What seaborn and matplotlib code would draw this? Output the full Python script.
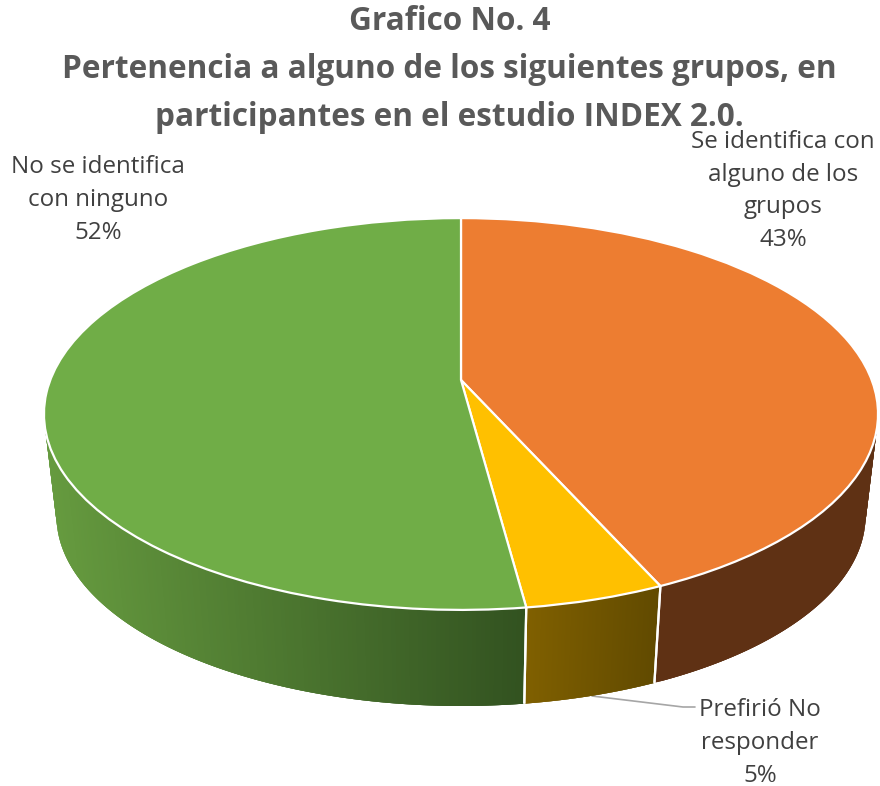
import numpy as np
import matplotlib
matplotlib.use("Agg")
import matplotlib.pyplot as plt
from matplotlib.transforms import Transform
from matplotlib.colors import to_rgb
import seaborn as sns

# --- data ---
categories = ["Se identifica con\nalguno de los\ngrupos", "Prefirió No\nresponder", "No se identifica\ncon ninguno"]
values = [43.3, 4.6, 52.1]
title_lines = ["Grafico No. 4",
               "Pertenencia a alguno de los siguientes grupos, en",
               "participantes en el estudio INDEX 2.0."]
top_colors = ["#ED7D31", "#FFC000", "#70AD47"]
side_left = ["#5F3114", "#806000", "#669B3F"]
side_right = ["#5F3114", "#614A00", "#325220"]
label_pos = [(783, 191), (760, 743), (98, 200)]

# --- projection of the pie plane (unit circle -> pixels) ---
CX, CY, B, A, K = 461.0, 380.0, 410.7, 190.0, 0.1735
DEPTH_SCALE, BOTTOM_CY = 0.97, 483.0


def project(u, v, bottom=False):
    s = 1.0 / (1.0 - K * v)
    if bottom:
        return CX + DEPTH_SCALE * B * u * s, BOTTOM_CY + DEPTH_SCALE * A * v * s
    return CX + B * u * s, CY + A * v * s


class PieProjection(Transform):
    input_dims = 2
    output_dims = 2
    is_separable = False
    has_inverse = False

    def transform_non_affine(self, values):
        values = np.asarray(values)
        x, y = project(values[:, 0], -values[:, 1])
        return np.column_stack([x, y])


sns.set_theme(style="white")
plt.rcParams["font.family"] = ["Open Sans", "DejaVu Sans"]

fig = plt.figure(figsize=(8.8, 7.86), dpi=100, facecolor="white")
ax = fig.add_axes([0, 0, 1, 1])

wedges, _ = ax.pie(values, colors=top_colors, startangle=90, counterclock=False,
                   wedgeprops=dict(edgecolor="white", linewidth=1.6, joinstyle="round"))
ax.set_aspect("auto")
ax.set_xlim(0, 880)
ax.set_ylim(786, 0)
ax.axis("off")

for w in wedges:
    w.set_transform(PieProjection() + ax.transData)
    w.set_zorder(5)

# --- side wall, shaded per slice ---
for w, cl, cr in zip(wedges, side_left, side_right):
    th = np.radians(np.linspace(w.theta1, w.theta2, 360))
    th = th[np.sin(th) < -0.12]
    # draw from left to right so each overlapping band hides the previous seam
    u, v = np.cos(th), -np.sin(th)
    order = np.argsort(u)
    u, v = u[order], v[order]
    xt, yt = project(u, v)
    xb, yb = project(u, v, bottom=True)
    x0, x1 = xb.min(), xb.max()
    c0, c1 = np.array(to_rgb(cl)), np.array(to_rgb(cr))
    for i in range(len(u) - 1):
        j = min(i + 3, len(u) - 1)
        f = ((xb[i] + xb[i + 1]) / 2 - x0) / max(x1 - x0, 1)
        c = c0 + (c1 - c0) * f
        ax.fill([xt[i], xt[j], xb[j], xb[i]],
                [yt[i], yt[j], yb[j], yb[i]],
                facecolor=c, edgecolor="none", linewidth=0, zorder=2)

# --- white seams on the wall between slices ---
for w in wedges:
    for a in (w.theta1, w.theta2):
        r = np.radians(a)
        if np.sin(r) < -0.12:
            u, v = np.cos(r), -np.sin(r)
            x0, y0 = project(u, v)
            x1, y1 = project(u, v, bottom=True)
            ax.plot([x0, x1], [y0, y1], color="white", lw=1.6, zorder=3,
                    solid_capstyle="butt")

# --- leader line ---
ax.plot([592, 683, 695], [696, 707, 707], color="#A6A6A6", lw=1.2, zorder=1)

# --- text ---
for yy, line in zip((22, 70, 117), title_lines):
    ax.text(449.5, yy, line, ha="center", va="center", fontsize=22.7, fontweight="bold",
            color="#595959", zorder=6)
for cat, val, (x, y) in zip(categories, values, label_pos):
    ax.text(x, y, f"{cat}\n{val:.0f}%", ha="center", va="center", fontsize=17.4,
            color="#404040", linespacing=1.48, zorder=7)

fig.savefig("out.png", dpi=100)
